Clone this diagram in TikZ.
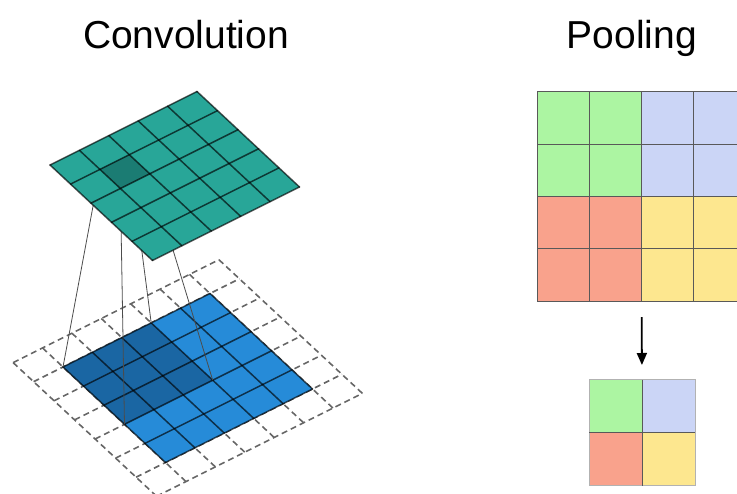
\documentclass[tikz,border=0pt]{standalone}
\usepackage{fontspec}
\setmainfont{Liberation Sans}
\usepackage{tikz}
\usetikzlibrary{arrows.meta}
\definecolor{convteal}{RGB}{40,166,152}
\definecolor{convtealdark}{RGB}{27,124,115}
\definecolor{convblue}{RGB}{38,139,216}
\definecolor{convbluedark}{RGB}{26,102,163}
\definecolor{poolgreen}{RGB}{172,245,162}
\definecolor{poolblue}{RGB}{203,213,246}
\definecolor{poolred}{RGB}{249,162,140}
\definecolor{poolyellow}{RGB}{253,231,143}
\tikzset{
  title/.style={font=\fontsize{39}{40}\selectfont, anchor=base},
  cellline/.style={line width=1.5pt, black, opacity=.65, line cap=round},
  padline/.style={line width=1.6pt, black!60, dash pattern=on 6pt off 4pt},
  projline/.style={line width=0.8pt, black!70},
  poolline/.style={line width=1pt, black!65},
  iso/.style={x={(29.4pt,14.7pt)}, y={(20.5pt,-19.1pt)}}
}
\begin{document}
\begin{tikzpicture}[x=1pt,y=-1pt]
\useasboundingbox (0,0) rectangle (737,494);
% Titles
\node[title] (convtitle) at (186,49) {Convolution};
\node[title] (pooltitle) at (632,49) {Pooling};
% Input with padding (bottom)
\begin{scope}[shift={(63pt,-367pt)}, iso]
\foreach \i in {-1,...,6} {
  \draw[padline] (\i,-1) -- (\i,6);
  \draw[padline] (-1,\i) -- (6,\i);
}
\fill[convblue] (0,0) -- (5,0) -- (5,5) -- (0,5) -- cycle;
\fill[convbluedark] (0,0) -- (3,0) -- (3,3) -- (0,3) -- cycle;
\foreach \i in {0,...,5} {
  \draw[cellline] (\i,0) -- (\i,5);
  \draw[cellline] (0,\i) -- (5,\i);
}
\coordinate (in-l) at (0,0);
\coordinate (in-t) at (3,0);
\coordinate (in-r) at (3,3);
\coordinate (in-b) at (0,3);
\end{scope}
% Output (top), kernel lines run under it
\begin{scope}[shift={(50pt,-165pt)}, iso]
\coordinate (out-l) at (1,1);
\coordinate (out-t) at (2,1);
\coordinate (out-r) at (2,2);
\coordinate (out-b) at (1,2);
\foreach \c in {l,t,r,b}
  \draw[projline] (out-\c) -- (in-\c);
\fill[convteal] (0,0) -- (5,0) -- (5,5) -- (0,5) -- cycle;
\fill[convtealdark] (1,1) -- (2,1) -- (2,2) -- (1,2) -- cycle;
\foreach \i in {0,...,5} {
  \draw[cellline] (\i,0) -- (\i,5);
  \draw[cellline] (0,\i) -- (5,\i);
}
\end{scope}
% Pooling input 4x4 (cut at the right edge)
\begin{scope}
\clip (0,0) rectangle (737,494);
\fill[poolgreen] (537,92) rectangle (641.6,196.6);
\fill[poolblue] (641.6,92) rectangle (746.2,196.6);
\fill[poolred] (537,196.6) rectangle (641.6,301.2);
\fill[poolyellow] (641.6,196.6) rectangle (746.2,301.2);
\foreach \i in {0,...,4} {
  \draw[poolline] (537+52.3*\i,92) -- (537+52.3*\i,301.2);
  \draw[poolline] (537,92+52.3*\i) -- (746.2,92+52.3*\i);
}
\end{scope}
\coordinate (pool-in) at (641.6,301.2);
% Pooling output 2x2
\fill[poolgreen] (589,380) rectangle (642,433);
\fill[poolblue] (642,380) rectangle (695,433);
\fill[poolred] (589,433) rectangle (642,486);
\fill[poolyellow] (642,433) rectangle (695,486);
\draw[poolline, black!30] (589,380) rectangle (695,486);
\draw[poolline] (642,380) -- (642,486);
\draw[poolline] (589,433) -- (695,433);
\coordinate (pool-out) at (642,380);
\draw[-{Triangle[length=12pt,width=10pt]}, line width=1.8pt, shorten <=16pt, shorten >=15pt] (pool-in) -- (pool-out);
\end{tikzpicture}
\end{document}
